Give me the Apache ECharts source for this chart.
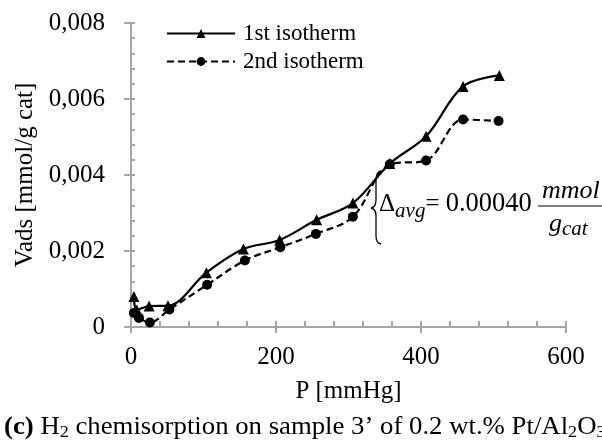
<!DOCTYPE html>
<html><head><meta charset="utf-8">
<script src="https://cdn.jsdelivr.net/npm/echarts@6/dist/echarts.min.js"></script>
<style>html,body{margin:0;padding:0;background:#fff}#c{width:602px;height:443px}</style>
</head><body><div id="c"></div>
<script>
const pressure1 = [4, 8, 25, 51, 104, 155, 205, 256, 306, 357, 407, 458, 508];
const vads1 = [0.00080, 0.00045, 0.00055, 0.00056, 0.00143, 0.00205, 0.00229, 0.00282, 0.00326, 0.00430, 0.00502, 0.00633, 0.00662];
const pressure2 = [4, 11, 26, 53, 105, 157, 206, 255, 306, 357, 407, 458, 507];
const vads2 = [0.00037, 0.00024, 0.00012, 0.00046, 0.00111, 0.00175, 0.00210, 0.00245, 0.00290, 0.00428, 0.00438, 0.00546, 0.00542];
const seriesNames = ['1st isotherm', '2nd isotherm'];
const xTicks = [0, 200, 400, 600];
const yTickLabels = ['0', '0,002', '0,004', '0,006', '0,008'];

const F = 'Liberation Serif';
const axisColor = '#a6a6a6';
const chart = echarts.init(document.getElementById('c'), null, {renderer: 'canvas'});
const d1 = pressure1.map((x, i) => [x, vads1[i]]);
const d2 = pressure2.map((x, i) => [x, vads2[i]]);

const baseX = {type: 'value', min: 0, max: 600, interval: 200, position: 'bottom', splitLine: {show: false}};
const baseY = {type: 'value', min: 0, max: 0.008, interval: 0.002, position: 'left', splitLine: {show: false}};
const braceStyle = {stroke: '#000', lineWidth: 1.3, fill: null};

chart.setOption({
  animation: false,
  grid: {left: 131, right: 36, top: 23, bottom: 116, containLabel: false},
  legend: {
    orient: 'vertical', left: 161, top: 17, itemWidth: 68, itemHeight: 11, itemGap: 5,
    textStyle: {fontFamily: F, fontSize: 23, color: '#000', padding: [0, 0, 0, 3]},
    data: seriesNames
  },
  xAxis: [
    Object.assign({}, baseX, {
      axisLine: {show: true, lineStyle: {color: axisColor, width: 2}},
      axisTick: {show: true, inside: false, length: 6, lineStyle: {color: axisColor, width: 2}},
      minorTick: {show: false},
      axisLabel: {show: true, margin: 18, fontFamily: F, fontSize: 25, color: '#000',
        formatter: v => xTicks.includes(v) ? String(v) : ''},
      name: 'P [mmHg]', nameLocation: 'middle', nameGap: 52,
      nameTextStyle: {fontFamily: F, fontSize: 25, color: '#000'}
    }),
    Object.assign({}, baseX, {
      axisLine: {show: false},
      axisTick: {show: true, inside: true, length: 6, lineStyle: {color: axisColor, width: 2}},
      minorTick: {show: true, splitNumber: 5, length: 6, lineStyle: {color: axisColor, width: 2}},
      axisLabel: {show: false}
    })
  ],
  yAxis: [
    Object.assign({}, baseY, {
      axisLine: {show: true, lineStyle: {color: axisColor, width: 2}},
      axisTick: {show: true, inside: false, length: 7, lineStyle: {color: axisColor, width: 2}},
      minorTick: {show: false},
      axisLabel: {show: true, margin: 26, fontFamily: F, fontSize: 25, color: '#000',
        formatter: v => yTickLabels[Math.round(v / 0.002)]},
      name: 'Vads [mmol/g cat]', nameLocation: 'middle', nameGap: 92, nameRotate: 90,
      nameTextStyle: {fontFamily: F, fontSize: 25, color: '#000'}
    }),
    Object.assign({}, baseY, {
      axisLine: {show: false},
      axisTick: {show: true, inside: true, length: 4, lineStyle: {color: axisColor, width: 2}},
      minorTick: {show: true, splitNumber: 5, length: 4, lineStyle: {color: axisColor, width: 2}},
      axisLabel: {show: false}
    })
  ],
  series: [
    {name: seriesNames[0], type: 'line', data: d1, smooth: 0.35, xAxisIndex: 0, yAxisIndex: 0,
      symbol: 'triangle', symbolSize: 11,
      itemStyle: {color: '#000'}, lineStyle: {color: '#000', width: 2.2, type: 'solid'}},
    {name: seriesNames[1], type: 'line', data: d2, smooth: 0.35, xAxisIndex: 0, yAxisIndex: 0,
      symbol: 'circle', symbolSize: 10,
      itemStyle: {color: '#000'}, lineStyle: {color: '#000', width: 2.2, type: [7, 4]}}
  ],
  graphic: [
    {type: 'bezierCurve', shape: {x1: 381, y1: 171, cpx1: 376, cpy1: 172, x2: 376, y2: 180}, style: braceStyle},
    {type: 'line', shape: {x1: 376, y1: 180, x2: 376, y2: 200}, style: braceStyle},
    {type: 'bezierCurve', shape: {x1: 376, y1: 200, cpx1: 376, cpy1: 207, x2: 371, y2: 208}, style: braceStyle},
    {type: 'bezierCurve', shape: {x1: 371, y1: 208, cpx1: 376, cpy1: 209, x2: 376, y2: 216}, style: braceStyle},
    {type: 'line', shape: {x1: 376, y1: 216, x2: 376, y2: 236}, style: braceStyle},
    {type: 'bezierCurve', shape: {x1: 376, y1: 236, cpx1: 376, cpy1: 243, x2: 381, y2: 244}, style: braceStyle},
    {type: 'text', left: 379, top: 191,
      style: {text: 'Δ{s|avg}= {n|0.00040}', fontFamily: F, fontSize: 25, fill: '#000',
        rich: {s: {fontFamily: F, fontStyle: 'italic', fontSize: 21, padding: [13, 0, 0, 0]},
          n: {fontFamily: F, fontSize: 26.5}}}},
    {type: 'text', left: 542, top: 178,
      style: {text: 'mmol', fontFamily: F, fontStyle: 'italic', fontSize: 26, fill: '#000'}},
    {type: 'line', shape: {x1: 538, y1: 206, x2: 602, y2: 206}, style: {stroke: '#000', lineWidth: 1.2}},
    {type: 'text', left: 549, top: 211,
      style: {text: 'g{s|cat}', fontFamily: F, fontStyle: 'italic', fontSize: 26, fill: '#000',
        rich: {s: {fontFamily: F, fontStyle: 'italic', fontSize: 21, padding: [10, 0, 0, 0]}}}},
    {type: 'text', x: 4, y: 414, scaleX: 1.07,
      style: {text: '{b|(c)} H{s|2} chemisorption on sample 3’ of 0.2 wt.% Pt/Al{s|2}O{s|3}',
        fontFamily: F, fontSize: 25, fill: '#000',
        rich: {b: {fontFamily: F, fontWeight: 'bold', fontSize: 25},
          s: {fontFamily: F, fontSize: 17, padding: [10, 0, 0, 0]}}}}
  ]
});
</script></body></html>
